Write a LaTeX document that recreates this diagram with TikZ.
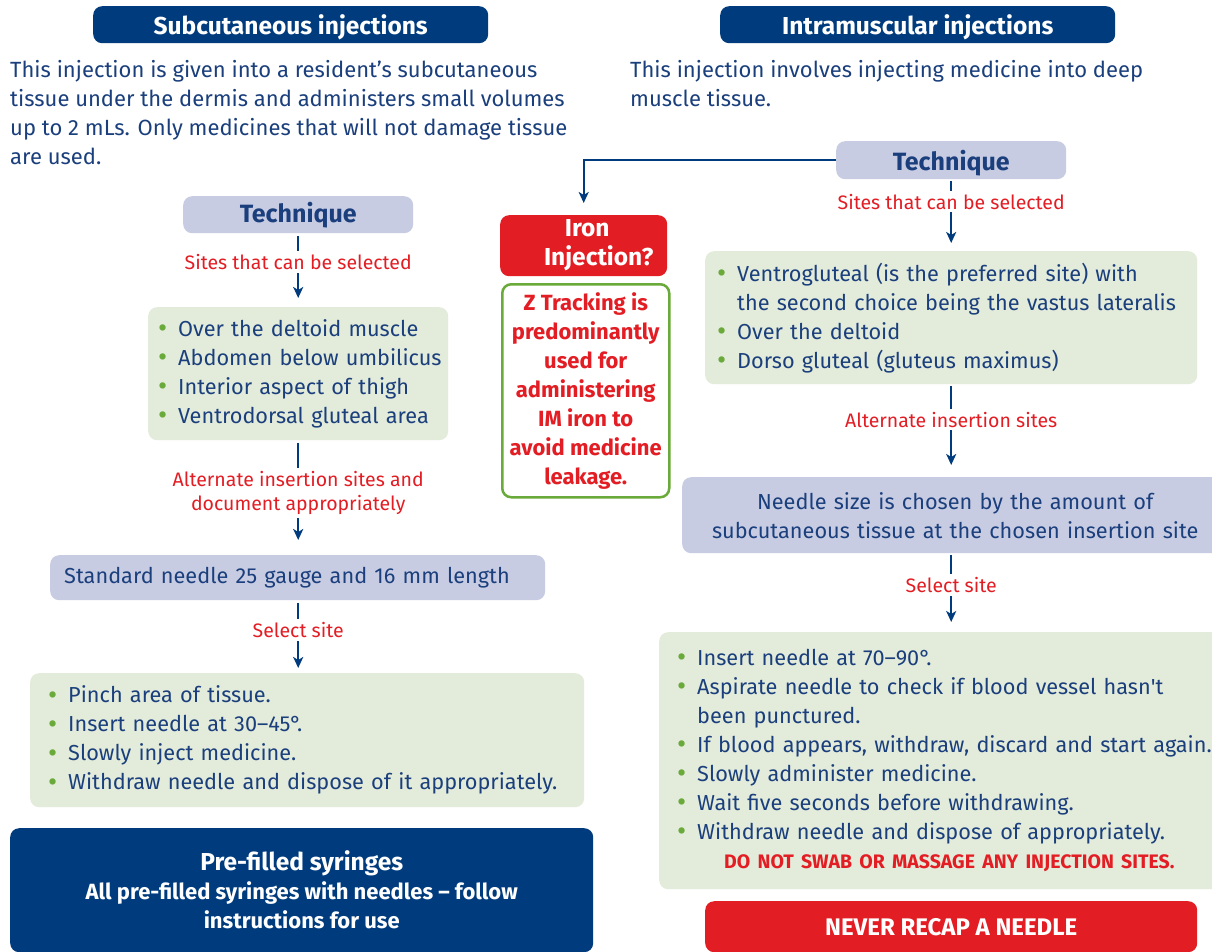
\documentclass[tikz,border=0pt]{standalone}
\usepackage{fontspec}
\setmainfont{Fira Sans}
\newfontfamily\rawfont{Fira Sans}
\usetikzlibrary{arrows.meta}
\definecolor{navy}{HTML}{003C7D}
\definecolor{txtblue}{HTML}{1A3F7C}
\definecolor{lav}{HTML}{C8CCE3}
\definecolor{lgreen}{HTML}{E3EBDA}
\definecolor{myred}{HTML}{E31D24}
\definecolor{bgreen}{HTML}{6AAA3A}
\newcommand{\Bi}[1]{\mbox{\makebox[20pt][l]{\textcolor{bgreen}{\fontsize{28}{0}\selectfont\raisebox{-1.2pt}{\textbullet}}}#1}}
\newcommand{\BI}[1]{\mbox{\hspace*{20pt}#1}}
\tikzset{
  box/.style={rounded corners=9pt, inner xsep=#1, inner ysep=0pt, anchor=north west},
  header/.style={box=0pt, fill=navy, text=white, font=\bfseries\fontsize{24.5}{28}\selectfont, align=center, text depth=0pt},
  techbox/.style={box=0pt, fill=lav, text=txtblue, font=\bfseries\fontsize{25}{28}\selectfont, align=center},
  gbox/.style={box=#1, fill=lgreen, text=txtblue, font=\fontsize{21.7}{29}\selectfont, align=left},
  lbox/.style={box=#1, fill=lav, text=txtblue, font=\fontsize{21.7}{29}\selectfont},
  para/.style={anchor=north west, inner sep=0pt, text=txtblue, font=\fontsize{22}{29}\selectfont, align=left},
  lbl/.style={text=myred, font=\fontsize{19.5}{24}\selectfont, fill=white, inner xsep=2pt, inner ysep=3pt, align=center},
  arr/.style={draw=navy, line width=2.4pt, -{Stealth[length=11pt,width=10pt,inset=3pt]}},
}
\begin{document}
\begin{tikzpicture}[x=1pt,y=-1pt]
\clip (0,0) rectangle (1212,952);
\fill[white] (0,0) rectangle (1212,952);

% headers
\node[header, minimum width=395pt, minimum height=37pt] (hL) at (93,6) {Subcutaneous injections};
\node[header, minimum width=395pt, minimum height=37pt] (hR) at (720,6) {Intramuscular injections};

% paragraphs
\node[para] (pL) at (10,60) {This injection is given into a resident’s subcutaneous\\tissue under the dermis and administers small volumes\\up to 2 mLs. Only medicines that will not damage tissue\\are used.};
\node[para] (pR) at (630,60) {This injection involves injecting medicine into deep\\muscle tissue.};

% left column
\node[techbox, minimum width=230pt, minimum height=37pt] (tL) at (183,196) {Technique};
\node[gbox=10pt, minimum width=300pt, minimum height=133pt, text width=280pt] (sL) at (148,307)
 {\Bi{Over the deltoid muscle}\\\Bi{Abdomen below umbilicus}\\\Bi{Interior aspect of thigh}\\\Bi{Ventrodorsal gluteal area}};
\node[lbox=14pt, minimum width=495pt, minimum height=45pt, text width=467pt, align=left] (nL) at (50,555)
 {Standard needle 25 gauge and 16 mm length};
\node[gbox=18pt, minimum width=554pt, minimum height=134pt, text width=518pt] (bL) at (30,673)
 {\Bi{Pinch area of tissue.}\\\Bi{Insert needle at 30–45°.}\\\Bi{Slowly inject medicine.}\\\Bi{Withdraw needle and dispose of it appropriately.}};
\node[box=0pt, fill=navy, text=white, minimum width=583pt, minimum height=124pt, align=center, font=\bfseries\fontsize{22}{29}\selectfont] (pf) at (10,828)
 {{\fontsize{24.5}{29}\selectfont Pre-filled syringes}\\All pre-filled syringes with needles – follow\\instructions for use};

\draw[arr, shorten <=3pt, shorten >=9pt] (tL.south) -- node[lbl, pos=0.39] {Sites that can be selected} (sL.north);
\draw[arr, shorten <=3pt, shorten >=15pt] (sL.south) -- node[lbl, pos=0.46] {Alternate insertion sites and\\document appropriately} (sL.south |- nL.north);
\draw[arr, shorten <=3pt, shorten >=5pt] (nL.south -| sL.south) -- node[lbl, pos=0.41] {Select site} (sL.south |- bL.north);

% right column
\node[techbox, minimum width=230pt, minimum height=38pt, text depth=0pt] (tR) at (836,141) {Technique};
\node[box=0pt, fill=myred, text=white, minimum width=167pt, minimum height=61pt, align=center, font=\bfseries\fontsize{24.5}{29}\selectfont] (iron) at (500,215)
 {\hspace*{7pt}Iron\\\hspace*{30pt}Injection?};
\node[box=0pt, fill=white, draw=bgreen, line width=2.5pt, text=myred, minimum width=167pt, minimum height=213pt, align=center, font=\bfseries\fontsize{22}{29}\selectfont] (zt) at (501,283)
 {Z Tracking is\\predominantly\\used for\\administering\\IM iron to\\avoid medicine\\leakage.};
\node[gbox=12pt, minimum width=492pt, minimum height=133pt, text width=468pt] (sR) at (705,251)
 {\Bi{Ventrogluteal (is the preferred site) with}\\\BI{the second choice being the vastus lateralis}\\\Bi{Over the deltoid}\\\Bi{Dorso gluteal (gluteus maximus)}};
\node[lbox=10pt, minimum width=546pt, minimum height=76pt, text width=526pt, align=center] (nR) at (682,477)
 {Needle size is chosen by the amount of\\subcutaneous tissue at the chosen insertion site};
\node[gbox=18pt, minimum width=580pt, minimum height=257pt, text width=544pt] (bR) at (659,632)
 {\Bi{Insert needle at 70–90°.}\\\Bi{Aspirate needle to check if blood vessel hasn{\rawfont '}t}\\\BI{been punctured.}\\\Bi{If blood appears, withdraw, discard and start again.}\\\Bi{Slowly administer medicine.}\\\Bi{Wait five seconds before withdrawing.}\\\Bi{Withdraw needle and dispose of appropriately.}\\\mbox{\hspace*{47pt}{\color{myred}\bfseries\fontsize{19.5}{29}\selectfont DO NOT SWAB OR MASSAGE ANY INJECTION SITES.}}};
\node[box=0pt, fill=myred, text=white, minimum width=492pt, minimum height=51pt, align=center, font=\bfseries\fontsize{24}{29}\selectfont] (nv) at (705,901)
 {NEVER RECAP A NEEDLE};

\draw[arr, shorten >=12pt] (tR.west) -| (iron.north);
\draw[arr, shorten <=2pt, shorten >=8pt] (tR.south) -- node[lbl, pos=0.31] {Sites that can be selected} (sR.north);
\draw[arr, shorten <=2pt, shorten >=12pt] (sR.south) -- node[lbl, pos=0.38] {Alternate insertion sites} (sR.south |- nR.north);
\draw[arr, shorten <=2pt, shorten >=10pt] (nR.south -| sR.south) -- node[lbl, pos=0.4] {Select site} (sR.south |- bR.north);
\end{tikzpicture}
\end{document}
